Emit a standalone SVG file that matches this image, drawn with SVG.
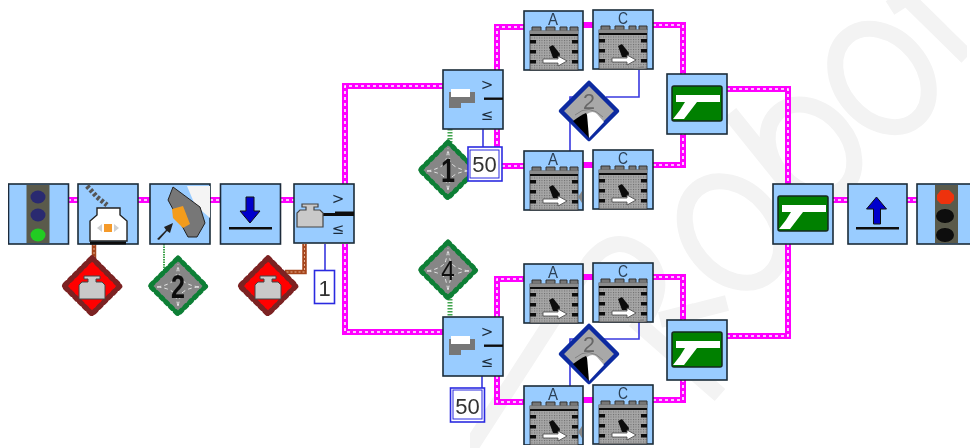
<svg xmlns="http://www.w3.org/2000/svg" width="970" height="448" viewBox="0 0 970 448">
<style>
.mark{fill:none;stroke:#f3f3f3;stroke-width:16}
.bg{fill:#99ccff;stroke:#1c2b3a;stroke-width:1.6}
.wm{fill:none;stroke:#ff00ff;stroke-width:6;stroke-linejoin:miter}
.wd{fill:none;stroke:#ffffff;stroke-width:1.6;stroke-dasharray:3 3}
.bw{fill:none;stroke:#3a3adf;stroke-width:1.6}
.gw{fill:none;stroke:#3fa34d;stroke-width:2;stroke-dasharray:1.5 1}
.gw2{fill:none;stroke:#3fa34d;stroke-width:5;stroke-dasharray:1.5 1.5}
.br{fill:none;stroke:#a5451c;stroke-width:4.5}
.brd{fill:none;stroke:#e8b090;stroke-width:1;stroke-dasharray:2 2}
.lt{font-family:"Liberation Sans",Arial,sans-serif;font-size:17px;fill:#2b3f55;text-anchor:middle}
.sw{font-family:"DejaVu Sans",sans-serif;font-size:15px;fill:#1c2b3a;text-anchor:middle}
.dg{font-family:"Liberation Sans",Arial,sans-serif;font-size:34px;font-weight:bold;fill:#111;text-anchor:middle}
.num{font-family:"Liberation Sans",Arial,sans-serif;font-size:22px;fill:#333;text-anchor:middle}
.box{fill:#fff;stroke:#2a2ae0;stroke-width:1.6}
</style>
<defs>
<filter id="soft" x="0" y="0" width="100%" height="100%"><feGaussianBlur stdDeviation="0.45"/></filter>
<pattern id="dots" width="2.500" height="2.500" patternUnits="userSpaceOnUse"><rect width="2.500" height="2.500" fill="#a6a6a6"/><rect width="1" height="1" fill="#6a6a6a"/></pattern>
<g id="castle">
<rect x="6" y="21" width="48" height="39" fill="url(#dots)" stroke="#333" stroke-width=".8"/>
<path d="M8 17h9v4h-9zM22 17h9v4h-9zM36 17h7v4h-7zM46 17h8v4h-8z" fill="#777" stroke="#333" stroke-width="1"/>
<rect x="6" y="20.500" width="48" height="4" fill="#8a8a8a"/>
<rect x="6" y="24" width="48" height="2" fill="#111"/>
<path d="M6 30h6v3.500h-6zM6 40h6v3.500h-6zM6 50h6v3.500h-6zM48 30h6v3.500h-6zM48 40h6v3.500h-6zM48 50h6v3.500h-6z" fill="#111"/>
<path d="M25 37l4-2 7 9-1 4h-6z" fill="#111"/>
<path d="M19 49h15v-3l9 5-9 5v-3h-15z" fill="#fff" stroke="#444" stroke-width=".8"/>
</g>
<g id="dgbase">
<polygon points="0,-28 28,0 0,28 -28,0" fill="#868686" stroke="#0d7f36" stroke-width="3.600" stroke-linejoin="round"/>
<polygon points="0,-28 28,0 0,28 -28,0" fill="none" stroke="#0d7f36" stroke-width="5" stroke-dasharray="2.500 4.200" stroke-linecap="round"/>
<path d="M-21 1Q-8 -1 -3 -7Q-1 -13 0 -22M21 1Q8 -1 3 -7Q1 -13 0 -22M-21 1Q-8 2 -3 8Q-1 14 0 22M21 1Q8 2 3 8Q1 14 0 22" stroke="#e4e4e4" stroke-width="1" fill="none" stroke-dasharray="4 3"/>
</g>
<g id="dred">
<polygon points="0,-28 28,0 0,28 -28,0" fill="#ff0000" stroke="#7c2222" stroke-width="4" stroke-linejoin="round"/>
<polygon points="0,-28 28,0 0,28 -28,0" fill="none" stroke="#7c2222" stroke-width="5.500" stroke-dasharray="2.500 4.200" stroke-linecap="round"/>
<path d="M-8 -10h16v3h-4v3h6l3 3v14h-26v-14l3-3h6v-3h-4z" fill="#c9c9c9" stroke="#444" stroke-width="1"/>
</g>
<g id="dblue">
<polygon points="0,-28 28,0 0,28 -28,0" fill="#a8a8a8" stroke="#0b2aa0" stroke-width="4.500" stroke-linejoin="round"/>
<path d="M0 27L-16 10Q-8 4 -3 2L0 8z" fill="#000"/>
<path d="M0 27L-2 3Q4 -1 8 3L15 11z" fill="#fff"/>
<path d="M-14 4Q0 -8 14 6" fill="none" stroke="#777" stroke-width=".8"/>
<text y="-2" class="num" textLength="12" lengthAdjust="spacingAndGlyphs" style="fill:#666">2</text>
</g>
<g id="sw">
<rect class="bg" x="0" y="0" width="60" height="59"/>
<rect x="41" y="27.500" width="19" height="2.400" fill="#111"/>
<text x="44" y="20" class="sw">&gt;</text>
<text x="44" y="50" class="sw">≤</text>
</g>
<g id="swlight">
<use href="#sw"/>
<path d="M6 22h26v11h-14v5h-12z" fill="#777"/>
<rect x="8" y="19" width="19" height="8" fill="#fff"/>
</g>
<g id="mg">
<rect class="bg" x="0" y="0" width="60" height="60"/>
<rect x="5" y="12" width="50" height="35" rx="2" fill="#008000" stroke="#16281c" stroke-width="1.500"/>
<path d="M9 21H53V28H30L17 45H6L13 36L18 28H9z" fill="#fff"/>
</g>
<g id="wt">
<path d="M-8 -11h16v3h-4v3h6l3 3v14h-26v-14l3-3h6v-3h-4z" fill="#c9c9c9" stroke="#444" stroke-width="1.200"/>
</g>
<g id="tl"><rect class="bg" width="60" height="60"/><rect x="18" y="1" width="23" height="58" fill="#5a5a4c"/></g>
</defs>
<g id="watermark" filter="url(#soft)">
<ellipse class="mark" cx="882" cy="78" rx="41" ry="54" transform="rotate(-40 882 78)"/>
<ellipse class="mark" cx="811" cy="150" rx="38" ry="50" transform="rotate(-40 811 150)"/>
<ellipse class="mark" cx="733" cy="232" rx="42" ry="56" transform="rotate(-40 733 232)"/>
<path class="mark" d="M730 113L800 200M907 -2L967 57M890 8L915 -8"/>
<path class="mark" d="M470 448L590 262Q615 230 645 255Q672 285 640 325L720 395M660 320L727 303"/>
</g>
<g filter="url(#soft)">
<g id="connectors">
<path class="wm" d="M68 200H78M138 200H150M210 200H220M280 200H294M345 184V86H443M345 244V332H443M497 70V27H524M583 25H593M653 25H683V74M497 129V166H524M583 165H593M653 165H683V133M497 317V279H524M583 277H593M653 277H683V320M497 376V402H524M583 400H593M653 400H683V379M727 89H788V184M727 336H788V244M832 200H848M907 200H917"/>
<path class="wd" d="M68 200H78M138 200H150M210 200H220M280 200H294M345 184V86H443M345 244V332H443M497 70V27H524M653 25H683V74M497 129V166H524M653 165H683V133M497 317V279H524M653 277H683V320M497 376V402H524M653 400H683V379M727 89H788V184M727 336H788V244M832 200H848M907 200H917"/>
<path class="br" d="M94 244V262M304.500 244V272H285"/>
<path class="brd" d="M94 244V262M304.500 244V272H285"/>
<path class="gw" d="M164 244V270"/>
<path class="gw2" d="M450 129V145M450 299V317"/>
<path class="bw" d="M325 244V271M483 129V147M639 70V97H606M570 151V97H573M639 322V339H604M570 386V339H574M482 376V388"/>
</g>
<g id="n-start"><use href="#tl" x="8.500" y="184"/><ellipse cx="38" cy="197" rx="7.500" ry="6.500" fill="#2a2a70"/><ellipse cx="38" cy="215" rx="7.500" ry="6.500" fill="#2a2a70"/><ellipse cx="38" cy="235" rx="7.500" ry="6.500" fill="#22cc22"/></g>
<g id="n-calib"><rect class="bg" x="78" y="184" width="60" height="60"/><path d="M87 186L97 197L107 205" fill="none" stroke="#555" stroke-width="5" stroke-dasharray="3 2"/><path d="M97 208h23v7l7 6v20h-37v-20l7-6z" fill="#fff" stroke="#222" stroke-width="1.400"/><rect x="90" y="241.500" width="36" height="3" fill="#111"/><path d="M102 224l-5 4 5 4zM114 224l5 4-5 4z" fill="#cfcfcf"/><rect x="104" y="224" width="8" height="8" fill="#f59a2c"/></g>
<g id="n-sensor"><rect class="bg" x="150" y="184" width="60" height="60"/><path d="M187 186H210V218L195 205z" fill="#f4f4f4"/><path d="M173 187L200 207L205 223L197 237H188L168 200z" fill="#777" stroke="#222"/><path d="M172 209L183 206L190 224L183 228L173 218z" fill="#f39c1f"/><path d="M157 239l9-9-2-3 9-4-3 10-3-2-8 9z" fill="#222"/></g>
<g id="n-down"><rect class="bg" x="220.500" y="184" width="60" height="60"/><path d="M246 197h8v14h6l-10 12-10-12h6z" fill="#0000cc" stroke="#111" stroke-width="1"/><rect x="229" y="227" width="43" height="2.500" fill="#111"/></g>
<g id="n-switch1"><use href="#sw" x="294" y="184"/><rect x="322" y="213" width="32" height="3" fill="#111"/><use href="#wt" x="310" y="215"/></g>
<g id="n-red1"><use href="#dred" x="92" y="286"/></g>
<g id="n-green2"><use href="#dgbase" x="178" y="286"/><text x="178" y="298" class="dg" textLength="14" lengthAdjust="spacingAndGlyphs">2</text></g>
<g id="n-red2"><use href="#dred" x="268" y="286"/></g>
<g id="n-one"><rect class="box" x="314.500" y="270.500" width="20" height="33"/><text x="324.500" y="296" class="num">1</text></g>
<g id="n-sw-up"><use href="#swlight" x="443" y="70"/></g>
<g id="n-sw-low"><use href="#swlight" x="443" y="317"/></g>
<g id="n-d1"><use href="#dgbase" x="448" y="170"/><text x="448" y="182" class="dg" textLength="14" lengthAdjust="spacingAndGlyphs">1</text></g>
<g id="n-d4"><use href="#dgbase" x="448" y="270"/><text x="448" y="280" class="dg" style="font-size:28px;font-weight:normal" textLength="14" lengthAdjust="spacingAndGlyphs">4</text></g>
<g id="n-50a"><rect class="box" x="468" y="147" width="34" height="34"/><rect x="470" y="150" width="29" height="28" fill="#fff" stroke="#2a2ae0"/><text x="484.500" y="172" class="num">50</text></g>
<g id="n-50b"><rect class="box" x="450.500" y="388" width="34" height="34"/><rect x="453" y="390" width="29" height="29" fill="#fff" stroke="#2a2ae0"/><text x="467.500" y="414" class="num">50</text></g>
<g id="n-m1"><rect class="bg" x="524" y="11" width="59" height="59"/><use href="#castle" x="524" y="10"/><text x="553" y="25" class="lt" textLength="10" lengthAdjust="spacingAndGlyphs">A</text></g>
<g id="n-m2"><rect class="bg" x="593" y="10" width="60" height="59"/><use href="#castle" x="593" y="9"/><text x="623" y="24" class="lt" textLength="10" lengthAdjust="spacingAndGlyphs">C</text><path d="M632 69L643 66L645 69z" fill="#888"/></g>
<g id="n-m3"><rect class="bg" x="524" y="151" width="59" height="59"/><use href="#castle" x="524" y="150"/><text x="553" y="165" class="lt" textLength="10" lengthAdjust="spacingAndGlyphs">A</text><path d="M578 197L582 191V203z" fill="#888"/></g>
<g id="n-m4"><rect class="bg" x="593" y="150" width="60" height="59"/><use href="#castle" x="593" y="149"/><text x="623" y="164" class="lt" textLength="10" lengthAdjust="spacingAndGlyphs">C</text></g>
<g id="n-m5"><rect class="bg" x="524" y="264" width="59" height="59"/><use href="#castle" x="524" y="263"/><text x="553" y="278" class="lt" textLength="10" lengthAdjust="spacingAndGlyphs">A</text></g>
<g id="n-m6"><rect class="bg" x="593" y="263" width="60" height="59"/><use href="#castle" x="593" y="262"/><text x="623" y="277" class="lt" textLength="10" lengthAdjust="spacingAndGlyphs">C</text><path d="M632 322L643 319L645 322z" fill="#888"/></g>
<g id="n-m7"><rect class="bg" x="524" y="386" width="59" height="59"/><use href="#castle" x="524" y="385"/><text x="553" y="400" class="lt" textLength="10" lengthAdjust="spacingAndGlyphs">A</text><path d="M578 432L582 426V438z" fill="#888"/></g>
<g id="n-m8"><rect class="bg" x="593" y="385" width="60" height="59"/><use href="#castle" x="593" y="384"/><text x="623" y="399" class="lt" textLength="10" lengthAdjust="spacingAndGlyphs">C</text></g>
<g id="n-t1"><use href="#dblue" x="589" y="111"/></g>
<g id="n-t2"><use href="#dblue" x="589" y="354"/></g>
<g id="n-mg1"><use href="#mg" x="667" y="74"/></g>
<g id="n-mg2"><use href="#mg" x="667" y="320"/></g>
<g id="n-mg3"><use href="#mg" x="773" y="184"/></g>
<g id="n-up"><rect class="bg" x="848" y="184" width="59" height="60"/><path d="M873.500 224v-15h-7l10-12 10 12h-6v15z" fill="#0000cc" stroke="#111" stroke-width="1"/><rect x="856" y="227" width="43" height="2.500" fill="#111"/></g>
<g id="n-end"><use href="#tl" x="917" y="184"/><path d="M941 190h8l5 5v5l-4 4h-9l-4-4v-5z" fill="#ee3311"/><ellipse cx="945" cy="216" rx="9" ry="7" fill="#0b0b0b"/><ellipse cx="945" cy="235" rx="9" ry="7" fill="#0b0b0b"/></g>
</g>
</svg>
